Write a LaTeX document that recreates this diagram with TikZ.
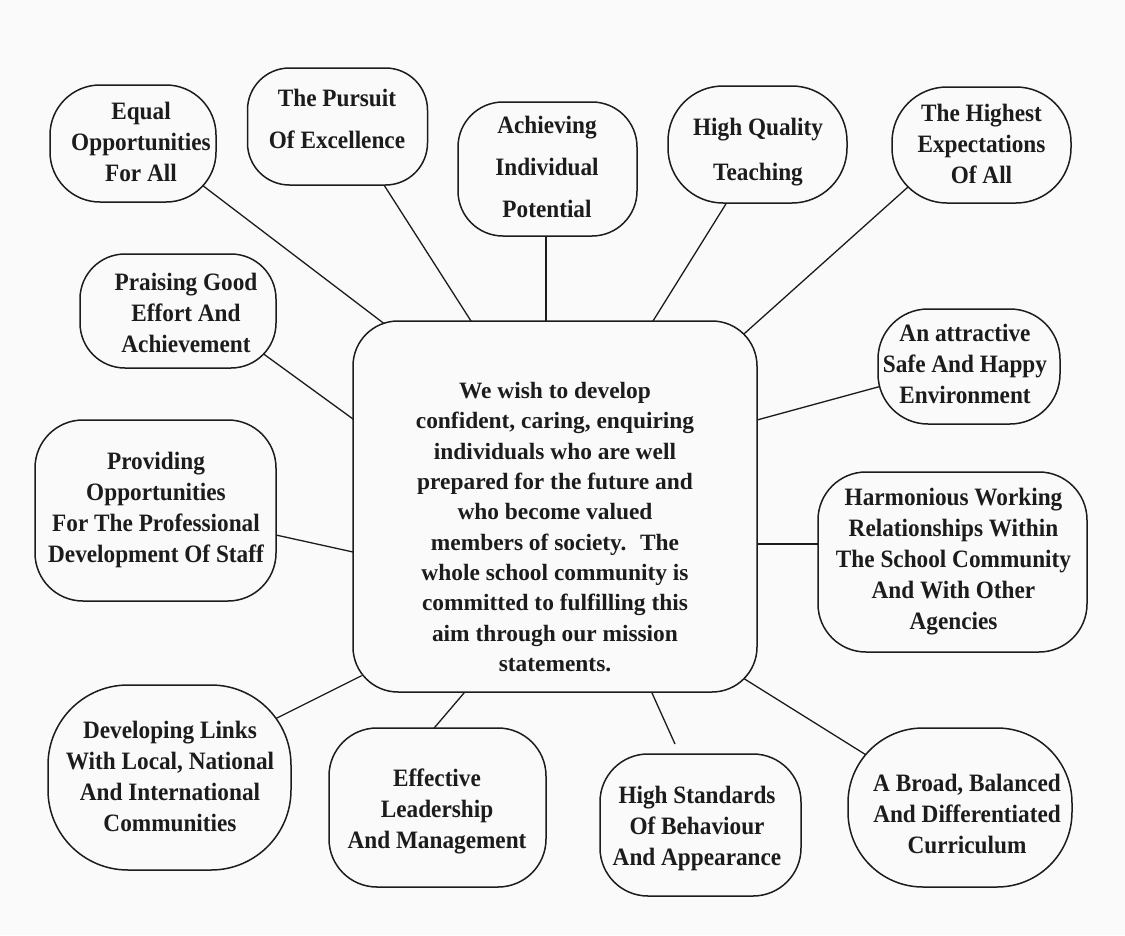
\documentclass[tikz,border=0pt]{standalone}
\usepackage{fontspec}
\setmainfont{Liberation Serif}
\newfontfamily\outerfont{Liberation Serif}[FakeStretch=0.93]
\usetikzlibrary{calc}
\definecolor{bg}{RGB}{250,250,250}
\definecolor{ink}{RGB}{28,28,28}
\pgfdeclarelayer{bglayer}
\pgfdeclarelayer{lines}
\pgfsetlayers{bglayer,lines,main}
\begin{document}
\begin{tikzpicture}[x=1pt,y=-1pt,
  bubble/.style={draw=ink, line width=1.5pt, fill=bg, inner sep=0pt},
  txt/.style={align=center, text=ink, inner sep=0pt, font=\outerfont\bfseries\fontsize{25}{31}\selectfont},
  ctxt/.style={align=center, text=ink, inner sep=0pt, font=\bfseries\fontsize{23.4}{30.3}\selectfont},
  wide/.style={font=\outerfont\bfseries\fontsize{25}{42}\selectfont},
  link/.style={draw=ink, line width=1.3pt, shorten <=-3pt, shorten >=-3pt}]
\begin{pgfonlayer}{bglayer}
\fill[bg] (0,0) rectangle (1125,935);
\end{pgfonlayer}
\useasboundingbox (0,0) rectangle (1125,935);

% central box
\node[bubble, minimum width=404pt, minimum height=371pt, rounded corners=45pt] (c) at (555,506.5) {};
\node[ctxt] (ct) at (555,527) {We wish to develop\\confident, caring, enquiring\\individuals who are well\\prepared for the future and\\who become valued\\members of society.~ The\\whole school community is\\committed to fulfilling this\\aim through our mission\\statements.};

% outer boxes
\node[bubble, minimum width=166pt, minimum height=117pt, rounded corners=50pt] (eq) at (133,143.5) {};
\node[txt] (eqt) at (141,142) {Equal\\Opportunities\\For All};

\node[bubble, minimum width=180pt, minimum height=117pt, rounded corners=42pt] (pu) at (337.5,126.5) {};
\node[txt, wide] (put) at (337,119) {The Pursuit\\Of Excellence};

\node[bubble, minimum width=179pt, minimum height=134pt, rounded corners=45pt] (ac) at (547.5,169) {};
\node[txt, wide] (act) at (547,167) {Achieving\\Individual\\Potential};

\node[bubble, minimum width=179pt, minimum height=117pt, rounded corners=55pt] (hq) at (757.5,144.5) {};
\node[txt, font=\outerfont\bfseries\fontsize{25}{45}\selectfont] (hqt) at (758,152.5) {High Quality\\Teaching};

\node[bubble, minimum width=179pt, minimum height=116pt, rounded corners=55pt] (hi) at (981.5,145) {};
\node[txt] (hit) at (981.5,143.5) {The Highest\\Expectations\\Of All};

\node[bubble, minimum width=196pt, minimum height=114pt, rounded corners=45pt] (pr) at (178,311) {};
\node[txt] (prt) at (186,313) {Praising Good\\Effort And\\Achievement};

\node[bubble, minimum width=182pt, minimum height=115pt, rounded corners=50pt] (at) at (969,366.5) {};
\node[txt] (att) at (965,364) {An attractive\\Safe And Happy\\Environment};

\node[bubble, minimum width=241pt, minimum height=181pt, rounded corners=48pt] (pd) at (155.5,510.5) {};
\node[txt] (pdt) at (156,510) {Providing\\Opportunities\\For The Professional\\Development Of Staff};

\node[bubble, minimum width=269pt, minimum height=180pt, rounded corners=48pt] (ha) at (952.5,562) {};
\node[txt] (hat) at (953.5,562) {Harmonious Working\\Relationships Within\\The School Community\\And With Other\\Agencies};

\node[bubble, minimum width=243pt, minimum height=185pt, rounded corners=80pt] (de) at (169.5,777.5) {};
\node[txt] (det) at (170,776.5) {Developing Links\\With Local, National\\And International\\Communities};

\node[bubble, minimum width=217pt, minimum height=159pt, rounded corners=48pt] (ef) at (437.5,807.5) {};
\node[txt] (eft) at (437,811) {Effective\\Leadership\\And Management};

\node[bubble, minimum width=201pt, minimum height=142pt, rounded corners=48pt] (hs) at (700.5,825) {};
\node[txt] (hst) at (697,828.5) {High Standards\\Of Behaviour\\And Appearance};

\node[bubble, minimum width=224pt, minimum height=159pt, rounded corners=75pt] (br) at (960,807.5) {};
\node[txt] (brt) at (967,814) {A Broad, Balanced\\And Differentiated\\Curriculum};

% connectors
\begin{pgfonlayer}{lines}
\draw[link] ($(eq)+(69,41.5)$) -- ($(c)+(-173,-184.5)$);
\draw[link] ($(pu)+(46.5,58.5)$) -- ($(c)+(-84,-185.5)$);
\draw[link] ($(ac)+(-1.5,67)$) -- ($(c)+(-9,-185.5)$);
\draw[link] ($(hq)+(-31,58.5)$) -- ($(c)+(98,-185.5)$);
\draw[link] ($(hi)+(-73.5,42)$) -- ($(c)+(190,-173.5)$);
\draw[link] ($(pr)+(87,44)$) -- ($(c)+(-202,-87.5)$);
\draw[link] ($(at)+(-91,20.5)$) -- ($(c)+(202,-86.5)$);
\draw[link] ($(pd)+(120.5,24.5)$) -- ($(c)+(-202,45.5)$);
\draw[link] ($(ha)+(-134.5,-18)$) -- ($(c)+(202,37.5)$);
\draw[link] ($(de)+(107.5,-59.5)$) -- ($(c)+(-196,170.5)$);
\draw[link] ($(ef)+(-2.5,-80.5)$) -- ($(c)+(-91,186.5)$);
\draw[link, shorten <=0pt] ($(hs)+(-25.5,-81)$) -- ($(c)+(97,186.5)$);
\draw[link] ($(br)+(-97,-54.5)$) -- ($(c)+(188,171.5)$);
\end{pgfonlayer}
\end{tikzpicture}
\end{document}
